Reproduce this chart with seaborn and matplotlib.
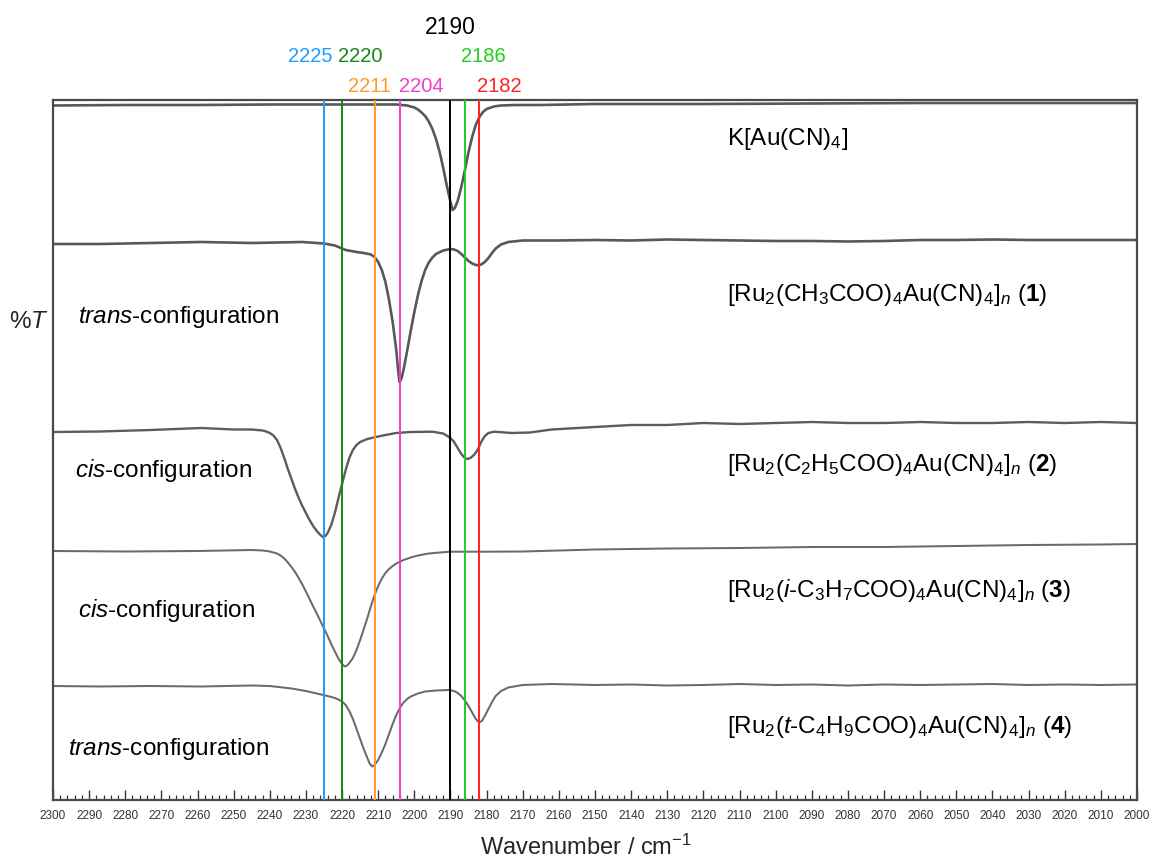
import numpy as np
import pandas as pd
import matplotlib
matplotlib.use("Agg")
import matplotlib.pyplot as plt
from matplotlib.ticker import MultipleLocator
import seaborn as sns

# ---------------- data (wavenumber / cm-1, offset %T in arbitrary units) -------------
wn_kau = [2300, 2280, 2260, 2240, 2220, 2205, 2202, 2200, 2199, 2198, 2197, 2196, 2195,
          2194, 2193, 2192, 2191, 2190, 2189.4, 2188.8, 2188, 2187, 2186, 2185, 2184,
          2183, 2182, 2181, 2180, 2178, 2176, 2172, 2165, 2150, 2120, 2090, 2060, 2030, 2000]
t_kau = [694.5, 695, 695, 695.5, 695.5, 695.5, 694.5, 692.5, 690.5, 687.5, 684, 678.5, 671,
         661, 648, 632, 614, 598, 590, 592, 599, 613, 630, 648, 663,
         675, 683, 688, 691, 693.5, 694.5, 695, 695, 696, 696, 696.5, 697, 697, 697]

wn_c1 = [2300, 2287, 2273, 2259, 2245, 2231, 2225, 2222, 2219, 2216, 2214, 2212, 2211,
         2210, 2209, 2208, 2207, 2206, 2205, 2204.5, 2204.1, 2203.6, 2203, 2202, 2201,
         2200, 2199, 2198, 2197, 2196, 2195, 2194, 2192, 2190, 2189, 2188, 2187, 2186,
         2185, 2184, 2183, 2182.3, 2181.5, 2180.5, 2179.5, 2178.5, 2177.5, 2176, 2174,
         2170, 2160, 2150, 2140, 2130, 2120, 2110, 2100, 2090, 2080, 2070, 2060, 2050,
         2040, 2030, 2020, 2010, 2000]
t_c1 = [556, 556, 557, 558, 557, 558, 556.5, 554.5, 550, 548, 547, 545.5, 543,
        538, 530, 518, 500, 478, 450, 430, 418, 421, 430, 449, 469,
        488, 505, 519, 530, 537.5, 542.5, 546, 549.5, 551, 550.5, 549, 546, 542.5,
        539, 536.5, 535, 534.8, 535.5, 538, 542, 547, 551.5, 555.5, 558,
        559.5, 559.5, 560, 559.5, 560.5, 560, 559.5, 559, 559, 558.5, 559, 560, 560,
        560.5, 560, 560, 560, 560]

wn_c2 = [2300, 2287, 2273, 2259, 2250, 2245, 2242, 2241, 2240, 2239, 2238, 2237, 2236,
         2235, 2234, 2233, 2232, 2231, 2230, 2229, 2228, 2227, 2226, 2225.3, 2224.6,
         2224, 2223, 2222, 2221, 2220, 2219, 2218, 2217, 2216, 2215, 2213, 2211, 2208,
         2205, 2201, 2195, 2192, 2190, 2189, 2188, 2187, 2186, 2185.3, 2184.5, 2183.5,
         2182.5, 2181.5, 2180.5, 2179.5, 2178, 2173, 2168, 2162, 2150, 2140, 2130, 2120,
         2110, 2100, 2090, 2080, 2070, 2060, 2050, 2040, 2030, 2020, 2010, 2000]
t_c2 = [368, 368.5, 370, 372, 370.5, 370.5, 369.5, 368.5, 367, 364.5, 360, 352, 342,
        331, 321, 311, 302, 294, 287, 280, 274, 269, 265, 263, 264,
        267, 275, 287, 302, 316, 330, 342, 350, 355, 358, 361, 362.7, 365,
        367, 368, 368.3, 366.5, 362, 358, 352, 346, 342, 341, 342, 345,
        350, 358, 364, 367, 368.3, 367, 367.5, 370.5, 373, 375, 375, 377,
        376, 377, 378, 377, 377, 378, 377, 377, 378, 377, 378, 377]

wn_c3 = [2300, 2280, 2260, 2245, 2242, 2240, 2238, 2237, 2236, 2235, 2234, 2233, 2232,
         2231, 2230, 2229, 2228, 2227, 2226, 2225, 2224, 2223, 2222, 2221, 2220, 2219.3,
         2218.6, 2218, 2217, 2216, 2215, 2214, 2213, 2212, 2211, 2210, 2209, 2208, 2207,
         2206, 2205, 2203, 2201, 2199, 2196, 2193, 2190, 2180, 2170, 2160, 2150, 2130,
         2110, 2090, 2070, 2050, 2030, 2010, 2000]
t_c3 = [249, 248.5, 249, 250, 249.5, 248.5, 246.5, 244.5, 241.5, 237.5, 233, 228, 222,
        215.5, 208.5, 201, 193.5, 186.5, 179, 171.5, 164, 156, 148.5, 141.5, 136, 133.5,
        134.5, 137, 142, 150, 160, 171, 182, 194, 205, 214, 221.5, 227, 231,
        234, 236.5, 240, 242.5, 244.5, 246.5, 247.5, 248.3, 248.3, 248.5, 249.5, 250.5, 251.5,
        252, 253, 253, 254, 255, 255.5, 256]

wn_c4 = [2300, 2287, 2273, 2259, 2245, 2240, 2234, 2230, 2227, 2224, 2222, 2221, 2220,
         2219, 2218, 2217, 2216, 2215, 2214, 2213, 2212.3, 2211.6, 2211, 2210, 2209, 2208,
         2207, 2206, 2205, 2204, 2203, 2202, 2201, 2199, 2197, 2194, 2190.5, 2189, 2188,
         2187, 2186, 2185, 2184, 2183, 2182.1, 2181.3, 2180.5, 2179.5, 2178.5, 2177.5,
         2176, 2174, 2170, 2162, 2150, 2140, 2130, 2120, 2110, 2100, 2090, 2080, 2070,
         2060, 2050, 2040, 2030, 2020, 2010, 2000]
t_c4 = [114, 113.5, 114, 113.5, 114.5, 114, 111.5, 109, 106.5, 104, 102, 100.5, 98.5,
        95, 89, 81, 71, 61, 51, 42, 36, 33.5, 35, 40, 47.5, 56,
        66, 76, 85, 92, 97.5, 101, 103.5, 106.5, 108.5, 109.5, 110, 109, 107,
        104, 99.5, 94, 87.5, 81, 77.5, 79, 84, 91, 98, 104,
        109, 112.5, 115, 116, 115, 115.5, 114.5, 115, 116, 115, 115.5, 114.5, 115.5,
        115, 115.5, 116, 115, 115.5, 115, 115.5]

marker_wn = [2225, 2220, 2211, 2204, 2190, 2186, 2182]
marker_colors = ["#1f9bff", "#138a13", "#ff9a2a", "#f040cc", "#000000", "#1ecf1e", "#ff2020"]
marker_text = ["2225", "2220", "2211", "2204", "2190", "2186", "2182"]

compound_labels = [
    r"K[Au(CN)$_4$]",
    r"[Ru$_2$(CH$_3$COO)$_4$Au(CN)$_4$]$_n$ ($\mathbf{1}$)",
    r"[Ru$_2$(C$_2$H$_5$COO)$_4$Au(CN)$_4$]$_n$ ($\mathbf{2}$)",
    r"[Ru$_2$($i$-C$_3$H$_7$COO)$_4$Au(CN)$_4$]$_n$ ($\mathbf{3}$)",
    r"[Ru$_2$($t$-C$_4$H$_9$COO)$_4$Au(CN)$_4$]$_n$ ($\mathbf{4}$)",
]
config_labels = [r"$trans$-configuration", r"$cis$-configuration",
                 r"$cis$-configuration", r"$trans$-configuration"]

# ---------------- style ----------------
sns.set_style("white")
plt.rcParams["font.family"] = ["Liberation Sans", "DejaVu Sans"]
plt.rcParams["mathtext.fontset"] = "custom"
plt.rcParams["mathtext.rm"] = "Liberation Sans"
plt.rcParams["mathtext.it"] = "Liberation Sans:italic"
plt.rcParams["mathtext.bf"] = "Liberation Sans:bold"

W, H = 1153, 860
fig = plt.figure(figsize=(W / 100, H / 100), dpi=100)
ax = fig.add_axes([53 / W, 60 / H, 1084 / W, 700 / H])

traces = [(wn_kau, t_kau), (wn_c1, t_c1), (wn_c2, t_c2), (wn_c3, t_c3), (wn_c4, t_c4)]
trace_colors = ["#585858", "#585858", "#5c5c5c", "#6a6a6a", "#6a6a6a"]
trace_lw = [1.9, 1.9, 1.7, 1.45, 1.45]
for (wn, t), c, lw in zip(traces, trace_colors, trace_lw):
    df = pd.DataFrame({"wn": wn, "T": t})
    sns.lineplot(data=df, x="wn", y="T", ax=ax, sort=False, estimator=None,
                 color=c, linewidth=lw)

for w, c in zip(marker_wn, marker_colors):
    ax.axvline(w, color=c, linewidth=1.4, zorder=3)

ax.set_xlim(2300, 2000)
ax.set_ylim(0, 700)
ax.set_xlabel("")
ax.set_ylabel("")
ax.set_yticks([])
ax.xaxis.set_major_locator(MultipleLocator(10))
ax.xaxis.set_minor_locator(MultipleLocator(2))
ax.tick_params(axis="x", which="major", direction="in", length=7, width=1,
               color="#333333", labelsize=8.5, labelcolor="#333333", pad=7, bottom=True)
ax.tick_params(axis="x", which="minor", direction="in", length=3.5, width=0.9,
               color="#333333", bottom=True)
for s in ax.spines.values():
    s.set_color("#4a4a4a")
    s.set_linewidth(1.6)

# top wavenumber labels (x anchor in data, y in data units above plot)
top_x = [2228.9, 2215.1, 2212.4, 2198.0, 2190.0, 2180.8, 2176.4]
top_y = [743, 743, 713, 713, 772, 743, 713]
top_fs = [14.5, 14.5, 14.5, 14.5, 16.5, 14.5, 14.5]
for tx, ty, txt, c, fs in zip(top_x, top_y, marker_text, marker_colors, top_fs):
    ax.text(tx, ty, txt, color=c, fontsize=fs, ha="center", va="center", clip_on=False)

# compound labels
comp_y = [661, 505, 335, 210, 73]
for lab, y in zip(compound_labels, comp_y):
    ax.text(2113.4, y, lab, fontsize=17.5, ha="left", va="center", color="black")

# configuration labels
conf_x = [2293.1, 2293.9, 2293.1, 2295.9]
conf_y = [483, 330, 189, 51]
for lab, x, y in zip(config_labels, conf_x, conf_y):
    ax.text(x, y, lab, fontsize=17.5, ha="left", va="center", color="black")

fig.text(29 / W, 1 - 322 / H, r"%$T$", fontsize=17.5, ha="center", va="center")
fig.text(586 / W, 1 - 847 / H, r"Wavenumber / cm$^{-1}$", fontsize=17,
         ha="center", va="center")

fig.savefig("out.png", dpi=100)
